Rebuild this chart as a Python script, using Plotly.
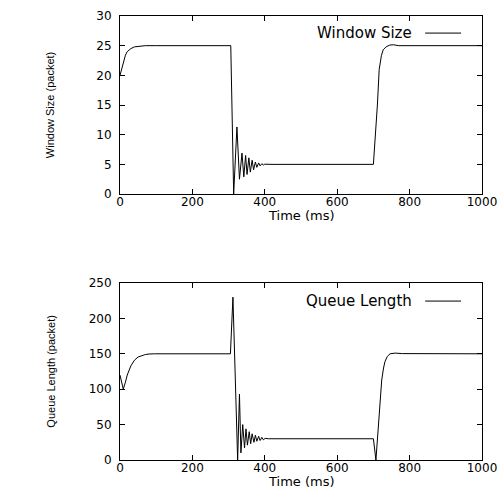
import plotly.graph_objects as go

# Window size (packets) vs time (ms)
win_t = [0, 5, 10, 15, 20, 30, 40, 50, 70, 100, 306, 314, 323, 330, 337, 342, 347, 351, 356, 360, 365, 369, 374, 378, 383, 387, 392, 396, 400, 420, 700, 711, 716, 722, 727, 735, 745, 755, 770, 1000]
win_v = [20, 21.3, 22.5, 23.4, 24.0, 24.5, 24.8, 24.9, 25.0, 25, 25, 0, 11.3, 2.5, 6.9, 2.9, 6.5, 3.3, 6.1, 3.7, 5.7, 4.1, 5.4, 4.5, 5.25, 4.75, 5.12, 4.9, 5.03, 5, 5, 15.0, 21.0, 23.3, 24.3, 24.8, 25.1, 25.15, 25.0, 25]

# Queue length (packets) vs time (ms)
q_t = [0, 9, 15, 20, 30, 40, 50, 60, 70, 80, 95, 305, 312, 325, 330, 334, 339, 344, 348, 352, 357, 361, 365, 370, 374, 378, 383, 387, 392, 396, 401, 410, 700, 707, 714, 723, 728, 732, 738, 746, 760, 780, 1000]
q_v = [120, 100, 110, 120, 133, 141, 145.5, 147.8, 149, 149.7, 150, 150, 230, 0, 93, 10, 50, 17, 44, 21, 40, 23, 37, 25, 35, 26.5, 33.5, 27.5, 32, 28.5, 30.6, 30, 30, 0, 52, 113, 130, 139, 146, 150, 151, 150.3, 150]

x_ticks = [0, 200, 400, 600, 800, 1000]
win_ticks = [0, 5, 10, 15, 20, 25, 30]
q_ticks = [0, 50, 100, 150, 200, 250]

TICKFONT = dict(family="DejaVu Sans", size=12, color="black")
XTITLEFONT = dict(family="DejaVu Sans", size=13, color="black")
YTITLEFONT = dict(family="Liberation Sans Narrow, Liberation Sans, Arial", size=11, color="black")
LEGFONT = dict(family="DejaVu Sans", size=15, color="black")

fig = go.Figure()
fig.add_trace(go.Scatter(x=win_t, y=win_v, mode="lines", line=dict(color="black", width=1),
                         xaxis="x", yaxis="y", showlegend=False))
fig.add_trace(go.Scatter(x=q_t, y=q_v, mode="lines", line=dict(color="black", width=1),
                         xaxis="x2", yaxis="y2", showlegend=False))

axis_common = dict(showgrid=False, zeroline=False, showline=True, mirror="ticks",
                   linecolor="black", linewidth=1, ticks="inside", ticklen=5,
                   tickcolor="black", tickfont=TICKFONT, automargin=False)

fig.update_layout(
    width=504, height=489,
    margin=dict(l=120, r=22, t=16, b=29),
    paper_bgcolor="white", plot_bgcolor="white",
    xaxis=dict(domain=[0, 1], anchor="y", range=[0, 1000], tickvals=x_ticks,
               ticklabelstandoff=-3, **axis_common),
    yaxis=dict(domain=[0.599, 1], anchor="x", range=[0, 30], tickvals=win_ticks,
               ticklabelstandoff=5, **axis_common),
    xaxis2=dict(domain=[0, 1], anchor="y2", range=[0, 1000], tickvals=x_ticks,
                ticklabelstandoff=-3, **axis_common),
    yaxis2=dict(domain=[0, 0.3986], anchor="x2", range=[0, 250], tickvals=q_ticks,
                ticklabelstandoff=5, **axis_common),
)

panels = [("x domain", "y domain", "Window Size", 0.904, "Window Size (packet)", -0.118),
          ("x2 domain", "y2 domain", "Queue Length", 0.898, "Queue Length (packet)", -0.122)]
for xr, yr, label, yy, ytitle, xt_y in panels:
    # legend entry (text then line sample, gnuplot style)
    fig.add_annotation(xref=xr, yref=yr, x=0.812, y=yy, text=label, showarrow=False,
                       xanchor="right", yanchor="middle", font=LEGFONT)
    fig.add_shape(type="line", xref=xr, yref=yr, x0=0.843, x1=0.942, y0=yy, y1=yy,
                  line=dict(color="black", width=1))
    # axis titles
    fig.add_annotation(xref=xr, yref=yr, x=0.5, y=xt_y, text="Time (ms)", showarrow=False,
                       xanchor="center", yanchor="middle", font=XTITLEFONT)
    fig.add_annotation(xref=xr, yref=yr, x=-0.193, y=0.5, text=ytitle, showarrow=False,
                       textangle=-90, xanchor="center", yanchor="middle", font=YTITLEFONT)

fig.write_html("out.html")
